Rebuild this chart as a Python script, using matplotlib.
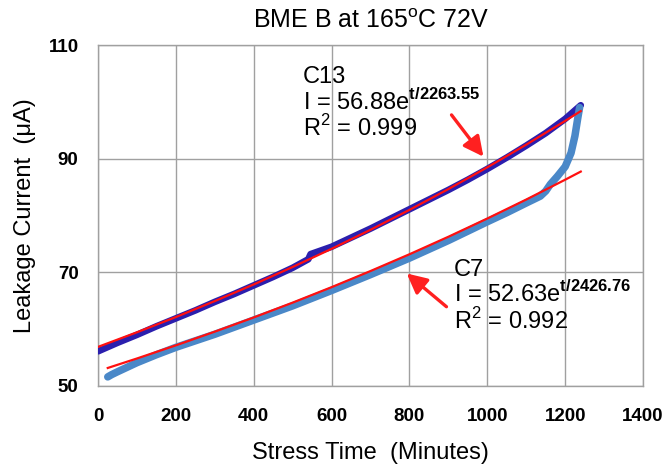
import matplotlib
matplotlib.use("Agg")
import matplotlib.pyplot as plt

plt.rcParams["font.family"] = ["Liberation Sans", "DejaVu Sans"]
plt.rcParams["mathtext.fontset"] = "custom"
plt.rcParams["mathtext.rm"] = "Liberation Sans"
plt.rcParams["mathtext.bf"] = "Liberation Sans:bold"

t_c13 = [0, 50, 100, 150, 200, 250, 300, 350, 400, 450, 500, 540, 546, 600, 650,
         700, 750, 800, 850, 900, 950, 1000, 1050, 1100, 1150, 1200, 1240]
i_c13 = [56.1, 57.6, 59.0, 60.5, 61.9, 63.3, 64.8, 66.2, 67.7, 69.2, 70.8, 72.3, 73.2, 74.5, 76.1,
         77.7, 79.4, 81.1, 82.8, 84.5, 86.3, 88.2, 90.2, 92.3, 94.5, 97.0, 99.4]

# C7 measured leakage (light blue)
t_c7 = [25, 35, 50, 75, 100, 150, 200, 300, 400, 500, 600, 700, 800, 900, 1000,
        1050, 1100, 1136, 1150, 1162, 1180, 1200, 1215, 1225, 1232, 1237]
i_c7 = [51.6, 52.0, 52.5, 53.3, 54.1, 55.5, 56.8, 59.1, 61.6, 64.1, 66.8, 69.6, 72.5, 75.6, 78.9,
        80.5, 82.2, 83.4, 84.3, 85.5, 86.9, 88.6, 91.0, 94.0, 97.0, 99.0]

# exponential fit lines (red)
t_fit13 = [0, 100, 200, 300, 400, 500, 600, 700, 800, 900, 1000, 1100, 1200, 1240]
i_fit13 = [56.88, 59.45, 62.13, 64.94, 67.87, 70.94, 74.14, 77.49, 80.99, 84.65, 88.48, 92.47, 96.65, 98.37]
t_fit7 = [25, 100, 200, 300, 400, 500, 600, 700, 800, 900, 1000, 1100, 1200, 1240]
i_fit7 = [53.17, 54.84, 57.15, 59.56, 62.06, 64.67, 67.39, 70.23, 73.18, 76.26, 79.47, 82.81, 86.30, 87.73]

xticks = [0, 200, 400, 600, 800, 1000, 1200, 1400]
yticks = [50, 70, 90, 110]

fig = plt.figure(figsize=(6.65, 4.66), dpi=100)
ax = fig.add_axes([0.1474, 0.1717, 0.8196, 0.7317])

ax.plot(t_c13, i_c13, color="#2b1fae", lw=4.8, solid_capstyle="round", zorder=3)
ax.plot(t_c7, i_c7, color="#4a88c8", lw=5.4, solid_capstyle="round", zorder=3)
ax.plot(t_fit13, i_fit13, color="#ff1010", lw=1.6, zorder=4)
ax.plot(t_fit7, i_fit7, color="#ff1010", lw=1.6, zorder=4)

ax.set_xlim(0, 1400)
ax.set_ylim(50, 110)
ax.set_xticks(xticks)
ax.set_yticks(yticks)
ax.grid(True, color="#a0a0a0", lw=1.0)
ax.set_axisbelow(True)
for s in ax.spines.values():
    s.set_color("#a0a0a0")
    s.set_linewidth(1.0)
ax.tick_params(length=0, labelsize=13.5, pad=14)
ax.tick_params(axis="x", pad=16)
for lab in ax.get_xticklabels() + ax.get_yticklabels():
    lab.set_fontweight("bold")

ax.set_title("BME B at 165$^{\\mathrm{o}}$C 72V", fontsize=18, pad=12)
ax.set_xlabel("Stress Time  (Minutes)", fontsize=17, labelpad=12)
ax.set_ylabel("Leakage Current  (\u03bcA)", fontsize=17, labelpad=9)

# fit annotations
fs = 17
ax.text(527, 103.3, "C13", fontsize=fs, va="baseline")
ax.text(527, 98.65, "I = 56.88e$^{\\mathbf{t/2263.55}}$", fontsize=fs, va="baseline")
ax.text(527, 94.0, "R$^{\\mathrm{2}}$ = 0.999", fontsize=fs, va="baseline")
ax.text(915, 69.35, "C7", fontsize=fs, va="baseline")
ax.text(915, 64.83, "I = 52.63e$^{\\mathbf{t/2426.76}}$", fontsize=fs, va="baseline")
ax.text(915, 59.97, "R$^{\\mathrm{2}}$ = 0.992", fontsize=fs, va="baseline")

arrow = dict(arrowstyle="-|>,head_length=0.6,head_width=0.3", color="#ff2020", lw=2.4,
             mutation_scale=20, shrinkA=0, shrinkB=0)
ax.annotate("", xy=(990, 90.35), xytext=(908, 97.7), arrowprops=arrow, zorder=5)
ax.annotate("", xy=(793, 69.8), xytext=(895, 63.95), arrowprops=arrow, zorder=5)

fig.savefig("out.png", dpi=100)
